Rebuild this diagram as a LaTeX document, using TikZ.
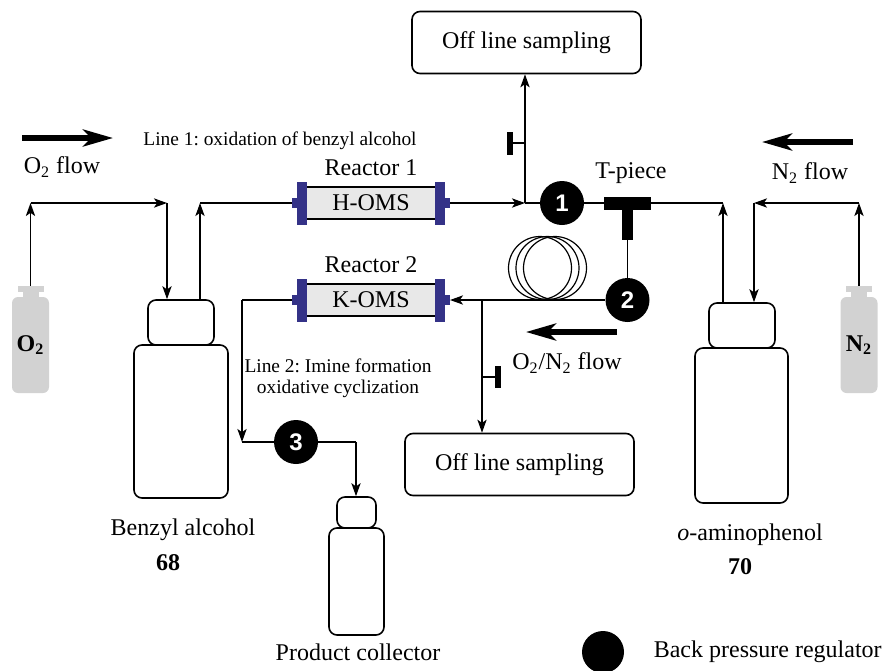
\documentclass[tikz,border=0pt,12pt]{standalone}
\usepackage{fontspec}
\setmainfont{Liberation Serif}
\newfontfamily\bprfont{Liberation Sans}
\usetikzlibrary{positioning, arrows.meta, calc}
\frenchspacing

\definecolor{capblue}{RGB}{52,50,135}
\definecolor{gasgray}{RGB}{210,210,210}
\definecolor{tubegray}{RGB}{232,232,232}

\tikzset{
  pipe/.style={line width=0.9pt},
  flow/.style={pipe,-{Stealth[length=6.5pt,width=4.6pt,inset=1.6pt]}},
  bigflow/.style={line width=2.6pt,-{Stealth[length=15pt,width=8.5pt,inset=4pt]}},
  valve/.style={line width=2.6pt},
  bpr/.style={circle,fill=black,minimum size=22pt,inner sep=0pt,text=white,
    font=\bprfont\bfseries\fontsize{12}{12}\selectfont},
  sampbox/.style={draw,line width=0.8pt,rounded corners=4pt,minimum width=114.5pt,minimum height=31pt},
  reactor/.style={draw,line width=0.8pt,fill=tubegray,minimum width=69pt,minimum height=16pt,
    inner sep=0pt,outer xsep=5pt},
  bottle/.style={draw,line width=0.8pt,rounded corners=4pt,inner sep=0pt},
  gascyl/.style={fill=gasgray,rounded corners=3pt,minimum width=18.5pt,minimum height=48pt,inner sep=0pt},
  small/.style={font=\fontsize{9.7}{10.5}\selectfont},
}

\begin{document}
\begin{tikzpicture}[x=0.5pt,y=-0.5pt]
    \useasboundingbox (0,0) rectangle (884,670);

    % gas cylinders
    \node[gascyl] (o2cyl) at (30.5,345) {\textbf{O\textsubscript{2}}};
    \node[gascyl] (n2cyl) at (859,345) {\textbf{N\textsubscript{2}}};
    \foreach \g in {o2cyl,n2cyl} {
        \fill[gasgray] ($(\g.north)+(-8,1)$) rectangle ($(\g.north)+(8,-7)$);
        \fill[gasgray] ($(\g.north)+(-13,-5)$) rectangle ($(\g.north)+(13,-11)$);
    }
    \coordinate (o2top) at ($(o2cyl.north)+(0,-11)$);
    \coordinate (n2top) at ($(n2cyl.north)+(0,-11)$);

    % bottles
    \node[bottle,minimum width=33pt,minimum height=22.5pt] (bcap) at (181,322.5) {};
    \node[bottle,minimum width=47pt,minimum height=76.5pt] (bbody) at (181,421.5) {};
    \node[bottle,minimum width=33pt,minimum height=22.5pt] (acap) at (742,325.5) {};
    \node[bottle,minimum width=46.5pt,minimum height=77.5pt] (abody) at (741.5,425.5) {};
    \node[bottle,minimum width=19.5pt,minimum height=15.5pt] (pcap) at (356.5,512.5) {};
    \node[bottle,minimum width=27.5pt,minimum height=53.5pt] (pbody) at (356.5,581.5) {};

    \node (balc) at (183,530) {Benzyl alcohol};
    \node[font=\bfseries] (b68) at (168,563) {68};
    \node (aphen) at (750,535) {\textit{o}-aminophenol};
    \node[font=\bfseries] (a70) at (740,567) {70};
    \node (prod) at (358,652) {Product collector};

    % reactors
    \node[reactor] (r1) at (371,203) {H-OMS};
    \node[reactor] (r2) at (371,300) {K-OMS};
    \foreach \r in {r1,r2} {
        \foreach \a/\s in {west/1,east/-1} {
            \fill[capblue] ($(\r.\a)+(\s*5,-21.5)$) rectangle ($(\r.\a)+(\s*15,21.5)$);
            \fill[capblue] ($(\r.\a)+(0,-5)$) rectangle ($(\r.\a)+(\s*5,5)$);
        }
    }
    \node (r1lab) at (371,168) {Reactor 1};
    \node (r2lab) at (371,265) {Reactor 2};

    \node[sampbox] (off1) at (526.5,42.5) {Off line sampling};
    \node[sampbox] (off2) at (519.5,464.5) {Off line sampling};

    \node[bpr] (c1) at (562,203) {1};
    \node[bpr] (c2) at (627.5,300) {2};
    \node[bpr] (c3) at (296,442) {3};

    % T-piece
    \node[fill=black,minimum width=23.5pt,minimum height=6.5pt,inner sep=0pt] (tp) at (627.5,203) {};
    \fill ($(tp.south)+(-5.5,0)$) rectangle ($(tp.south)+(5.5,30)$);
    \coordinate (tpstem) at ($(tp.south)+(0,30)$);
    \node (tplab) at (631,173) {T-piece};

    % oxygen into benzyl alcohol, then line 1
    \coordinate (bin) at (167,203);
    \coordinate (bout) at (200,203);
    \draw[flow] (o2top) -- (o2top |- bin);
    \draw[flow] (o2top |- bin) -- (bin);
    \draw[flow] (bin) -- (bin |- bcap.north);
    \draw[flow] (bout |- bcap.north) -- (bout);
    \draw[pipe] (bout) -- (r1.west);

    \coordinate (sp1) at (525,203);
    \coordinate (v1) at (525,143);
    \draw[flow] (r1.east) -- (sp1);
    \draw[pipe] (sp1) -- (c1);
    \draw[flow] (sp1) -- (sp1 |- off1.south);
    \draw[pipe] (v1) -- ++(-15,0);
    \draw[valve] ($(v1)+(-15,-11)$) -- ++(0,23);
    \draw[pipe] (c1) -- (tp);

    % o-aminophenol and nitrogen
    \coordinate (aout) at (723,203);
    \coordinate (ain) at (754,203);
    \draw[pipe] (tp.east) -- (aout);
    \draw[flow] (aout |- acap.north) -- (aout);
    \draw[flow] (n2top) -- (n2top |- ain);
    \draw[flow] (n2top |- ain) -- (ain);
    \draw[flow] (ain) -- (ain |- acap.north);

    % coil and line 2
    \draw[pipe] (tpstem) -- (c2);
    \foreach \cx in {540,547.5,555}
        \draw[line width=0.6pt] (\cx,268) circle[radius=15.75pt];
    \draw[flow] (c2) -- (r2.east);

    \coordinate (sp2) at (482,300);
    \coordinate (v2) at (482,377);
    \draw[flow] (sp2) -- (sp2 |- off2.north);
    \draw[pipe] (v2) -- ++(16,0);
    \draw[valve] ($(v2)+(16,-11)$) -- ++(0,22);

    \coordinate (l2a) at (242,300);
    \coordinate (l2b) at (242,442);
    \coordinate (l2c) at (356,442);
    \draw[pipe] (r2.west) -- (l2a);
    \draw[flow] (l2a) -- (l2b);
    \draw[pipe] (l2b) -- (c3) (c3) -- (l2c);
    \draw[flow] (l2c) -- (l2c |- pcap.north);

    % flow directions
    \draw[bigflow] (22,138) -- (113,138);
    \draw[bigflow] (853,142) -- (762,142);
    \draw[bigflow] (617,332) -- (526,332);
    \node (o2flow) at (62,167) {O\textsubscript{2} flow};
    \node (n2flow) at (810,173) {N\textsubscript{2} flow};
    \node (mixflow) at (567,363) {O\textsubscript{2}/N\textsubscript{2} flow};

    \node[small] (line1) at (280,141) {Line 1: oxidation of benzyl alcohol};
    \node[small,align=center] (line2) at (338,378) {Line 2: Imine formation\\oxidative cyclization};

    % legend
    \node[bpr,minimum size=21pt] (legbpr) at (603,652) {};
    \node[right=10.5pt of legbpr] (legtext) {Back pressure regulator};
\end{tikzpicture}
\end{document}
